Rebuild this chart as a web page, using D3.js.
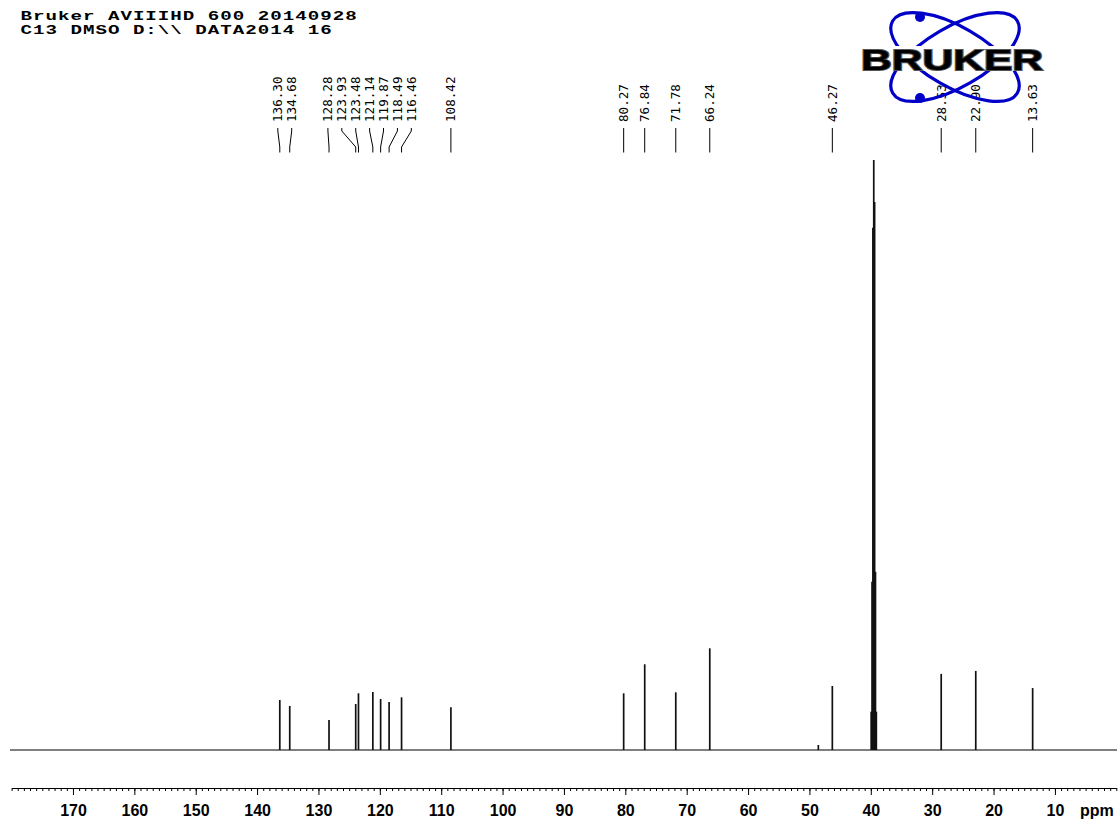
<!DOCTYPE html>
<html>
<head>
<meta charset="utf-8">
<script src="https://cdn.jsdelivr.net/npm/d3@7"></script>
<style>
  html, body { margin: 0; padding: 0; background: #fff; }
  svg { display: block; }
</style>
</head>
<body>
<svg id="chart" width="1120" height="823"></svg>
<script>
// ---- Spectrum data (13C, DMSO-d6) ----
// picked peaks: chemical shift (ppm) and relative intensity
const peakShifts = [136.30, 134.68, 128.28, 123.93, 123.48, 121.14, 119.87, 118.49, 116.46, 108.42,
                    80.27, 76.84, 71.78, 66.24, 46.27, 28.53, 22.90, 13.63];
const peakIntensities = [8.47, 7.46, 5.08, 7.80, 9.61, 9.83, 8.64, 8.14, 8.93, 7.24,
                         9.61, 14.53, 9.78, 17.24, 10.85, 12.90, 13.40, 10.50];
// solvent multiplet (DMSO-d6 septet) and a minor unlabelled signal
const solventShifts = [39.94, 39.80, 39.66, 39.52, 39.38, 39.24, 39.10];
const solventIntensities = [6.5, 28.5, 88.5, 100, 92.9, 30.2, 6.5];
const minorShifts = [48.55];
const minorIntensities = [0.85];

// axis ticks
const majorTicks = [170, 160, 150, 140, 130, 120, 110, 100, 90, 80, 70, 60, 50, 40, 30, 20, 10];
const axisUnit = "ppm";
const headerLines = ["Bruker AVIIIHD 600 20140928", "C13 DMSO D:\\\\ DATA2014 16"];

const svg = d3.select("#chart");

// ---- scales ----
const x = d3.scaleLinear().domain([180, 0]).range([11.6, 1116.3]);
const y = d3.scaleLinear().domain([0, 100]).range([750, 160]);

// ---- header ----
const header = svg.append("g").attr("font-family", "'Liberation Mono', 'Courier New', monospace")
  .attr("font-weight", "bold").attr("font-size", 13.5).attr("fill", "#000");
headerLines.forEach((t, i) => {
  header.append("text")
    .attr("transform", `translate(20.5,${19.5 + i * 14}) scale(1.42,1)`)
    .attr("letter-spacing", 0.7)
    .text(t);
});

// ---- baseline ----
svg.append("line")
  .attr("x1", 10).attr("x2", 1117)
  .attr("y1", y(0)).attr("y2", y(0))
  .attr("stroke", "#000").attr("stroke-width", 1.2);

// ---- peaks as sticks ----
const sticks = [];
peakShifts.forEach((s, i) => sticks.push({ s, v: peakIntensities[i] }));
solventShifts.forEach((s, i) => sticks.push({ s, v: solventIntensities[i] }));
minorShifts.forEach((s, i) => sticks.push({ s, v: minorIntensities[i] }));

svg.append("g").selectAll("line").data(sticks).join("line")
  .attr("x1", d => x(d.s)).attr("x2", d => x(d.s))
  .attr("y1", y(0)).attr("y2", d => y(d.v))
  .attr("stroke", "#111").attr("stroke-width", 1.7);

// ---- peak labels: spread crowded labels around their group mean ----
const px = peakShifts.map(s => x(s));
const gap = 13.9;
let groups = px.map((p, i) => ({ idx: [i], center: p }));
let merged = true;
while (merged) {
  merged = false;
  for (let i = 0; i < groups.length - 1; i++) {
    const a = groups[i], b = groups[i + 1];
    const aRight = a.center + (a.idx.length - 1) * gap / 2;
    const bLeft = b.center - (b.idx.length - 1) * gap / 2;
    if (bLeft - aRight < gap) {
      const idx = a.idx.concat(b.idx);
      groups.splice(i, 2, { idx, center: d3.mean(idx, j => px[j]) });
      merged = true;
      break;
    }
  }
}
const labelX = new Array(px.length);
groups.forEach(g => {
  const start = g.center - (g.idx.length - 1) * gap / 2;
  g.idx.forEach((j, k) => { labelX[j] = start + k * gap; });
});

const labels = svg.append("g");
labels.selectAll("path").data(peakShifts).join("path")
  .attr("d", (d, i) => `M${labelX[i]},128 L${labelX[i]},131 L${px[i]},147 L${px[i]},152.5`)
  .attr("fill", "none").attr("stroke", "#000").attr("stroke-width", 1);
labels.selectAll("text").data(peakShifts).join("text")
  .attr("transform", (d, i) => `translate(${labelX[i] + 4.3},122) rotate(-90)`)
  .attr("text-anchor", "start")
  .attr("font-family", "'DejaVu Sans Mono', monospace")
  .attr("font-size", 12.6).attr("fill", "#000")
  .text(d => d.toFixed(2));

// ---- logo ----
const logo = svg.append("g");
const cx = 955, cy = 57;
[-30, 30].forEach(a => {
  logo.append("ellipse")
    .attr("cx", cx).attr("cy", cy).attr("rx", 72).attr("ry", 30)
    .attr("transform", `rotate(${a},${cx},${cy})`)
    .attr("fill", "none").attr("stroke", "#0000c8").attr("stroke-width", 3.2);
});
[[920, 17], [920, 98]].forEach(([dx, dy]) => {
  logo.append("circle").attr("cx", dx).attr("cy", dy).attr("r", 5).attr("fill", "#0000c8");
});
logo.append("rect").attr("x", 858).attr("y", 46).attr("width", 188).attr("height", 25).attr("fill", "#fff");
logo.append("text")
  .attr("x", 861).attr("y", 69.5)
  .attr("font-family", "'Liberation Sans', Arial, sans-serif")
  .attr("font-weight", "bold").attr("font-size", 29)
  .attr("textLength", 182).attr("lengthAdjust", "spacingAndGlyphs")
  .attr("fill", "#000").attr("stroke", "#555").attr("stroke-width", 1.8)
  .attr("paint-order", "stroke")
  .text("BRUKER");

// ---- axis ----
const axisY = 788;
const minorAxis = d3.axisBottom(x).tickValues(d3.range(0, 181, 1)).tickSize(3).tickSizeOuter(0).tickFormat("");
svg.append("g").attr("transform", `translate(0,${axisY})`).call(minorAxis)
  .call(g => g.select(".domain").attr("stroke", "#000"))
  .call(g => g.selectAll(".tick line").attr("stroke", "#000"));

const majorAxis = d3.axisBottom(x).tickValues(majorTicks).tickSize(7).tickSizeOuter(0).tickFormat(d3.format("d"));
svg.append("g").attr("transform", `translate(0,${axisY})`).call(majorAxis)
  .call(g => g.select(".domain").remove())
  .call(g => g.selectAll(".tick line").attr("stroke", "#000"))
  .call(g => g.selectAll(".tick text")
    .attr("y", 28).attr("dy", 0)
    .attr("font-family", "'Liberation Sans', Arial, sans-serif")
    .attr("font-weight", "bold").attr("font-size", 16).attr("fill", "#000"));

svg.append("text")
  .attr("x", 1080).attr("y", 816)
  .attr("font-family", "'Liberation Sans', Arial, sans-serif")
  .attr("font-weight", "bold").attr("font-size", 16).attr("fill", "#000")
  .text(axisUnit);
</script>
</body>
</html>
